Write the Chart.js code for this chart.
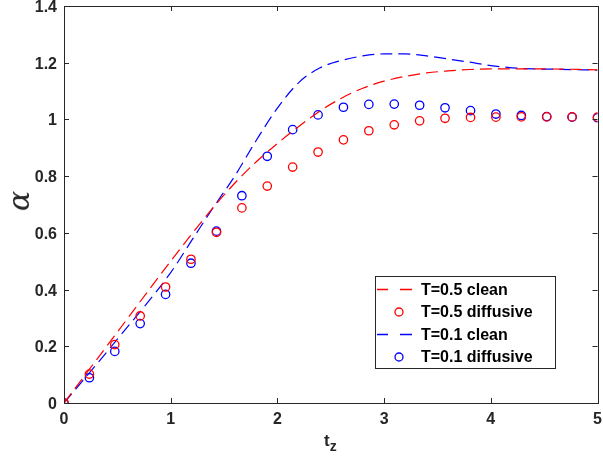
<!DOCTYPE html>
<html>
<head>
<meta charset="utf-8">
<script src="https://cdn.jsdelivr.net/npm/chart.js@4.4.1/dist/chart.umd.min.js"></script>
<style>
    body { margin: 0; background: #fff; }
    #wrap { position: relative; width: 603px; height: 466px; }
    #alpha {
        position: absolute; left: 19px; top: 201px; transform: translate(-50%, -50%) rotate(-90deg);
        font-family: "DejaVu Serif", serif; font-style: italic; font-size: 30px; line-height: 30px; color: #262626;
    }
    #tz {
        position: absolute; left: 324px; top: 431px;
        font-family: "Liberation Sans", Arial, sans-serif; font-weight: bold; font-size: 17px; color: #262626;
    }
    #tz sub { font-size: 14px; vertical-align: -5px; }
</style>
</head>
<body>
<div id="wrap">
    <canvas id="alphaChart" width="603" height="466"></canvas>
    <div id="alpha">α</div>
    <div id="tz">t<sub>z</sub></div>
</div>
<script>
// x positions of the diffusive markers
const diffX = [0, 0.238, 0.476, 0.714, 0.952, 1.190, 1.429, 1.667, 1.905, 2.143, 2.381,
               2.619, 2.857, 3.095, 3.333, 3.571, 3.810, 4.048, 4.286, 4.524, 4.762, 5.0];
const diffT05 = [0, 0.102, 0.206, 0.307, 0.409, 0.507, 0.602, 0.688, 0.765, 0.832, 0.885,
                 0.928, 0.960, 0.981, 0.995, 1.004, 1.007, 1.008, 1.009, 1.009, 1.009, 1.008];
const diffT01 = [0, 0.089, 0.182, 0.280, 0.383, 0.493, 0.606, 0.731, 0.870, 0.964, 1.016,
                 1.043, 1.053, 1.054, 1.050, 1.041, 1.031, 1.019, 1.014, 1.010, 1.008, 1.006];

// clean curves
const cleanX05 = [0, 0.5, 1.0, 1.4, 1.6, 1.8, 2.0, 2.2, 2.4, 2.6, 2.8, 3.0, 3.2, 3.4, 3.6, 3.8, 4.0, 4.5, 5.0];
const cleanT05 = [0, 0.25, 0.50, 0.69, 0.775, 0.85, 0.915, 0.975, 1.03, 1.075, 1.11, 1.135, 1.152, 1.164, 1.171, 1.176, 1.178, 1.178, 1.175];
const cleanX01 = [0, 0.5, 1.0, 1.2, 1.4, 1.6, 1.8, 2.0, 2.2, 2.4, 2.6, 2.8, 3.0, 3.2, 3.4, 3.6, 3.8, 4.0, 4.2, 4.4, 4.6, 5.0];
const cleanT01 = [0, 0.225, 0.46, 0.575, 0.69, 0.80, 0.925, 1.04, 1.13, 1.182, 1.208, 1.224, 1.231, 1.231, 1.224, 1.213, 1.202, 1.19, 1.182, 1.178, 1.177, 1.174];

const xTicks = [0, 1, 2, 3, 4, 5];
const yTicks = [0, 0.2, 0.4, 0.6, 0.8, 1, 1.2, 1.4];

const labels = ['T=0.5 clean', 'T=0.5 diffusive', 'T=0.1 clean', 'T=0.1 diffusive'];

const AXIS = '#262626';
const FONT = '"Liberation Sans", Arial, sans-serif';

function pts(xs, ys) {
    return xs.map((x, i) => ({ x: x, y: ys[i] }));
}

/**
 * MATLAB style box with inward ticks, tick labels and legend inside the axes
 */
const framePlugin = {
    id: 'frame',
    afterDatasetsDraw(chart) {
        const ctx = chart.ctx;
        const a = chart.chartArea;
        const xs = chart.scales.x, ys = chart.scales.y;
        const tl = 5;
        ctx.save();
        ctx.strokeStyle = AXIS;
        ctx.lineWidth = 1;
        ctx.strokeRect(Math.round(a.left) + 0.5, Math.round(a.top) + 0.5,
                       Math.round(a.right - a.left), Math.round(a.bottom - a.top));
        ctx.beginPath();
        xTicks.forEach(v => {
            const px = Math.round(xs.getPixelForValue(v)) + 0.5;
            ctx.moveTo(px, a.bottom); ctx.lineTo(px, a.bottom - tl);
            ctx.moveTo(px, a.top); ctx.lineTo(px, a.top + tl);
        });
        yTicks.forEach(v => {
            const py = Math.round(ys.getPixelForValue(v)) + 0.5;
            ctx.moveTo(a.left, py); ctx.lineTo(a.left + tl, py);
            ctx.moveTo(a.right, py); ctx.lineTo(a.right - tl, py);
        });
        ctx.stroke();

        // tick labels
        ctx.fillStyle = AXIS;
        ctx.font = 'bold 16px ' + FONT;
        ctx.textAlign = 'center';
        ctx.textBaseline = 'alphabetic';
        xTicks.forEach(v => {
            ctx.fillText(String(v), xs.getPixelForValue(v), a.bottom + 21);
        });
        ctx.textAlign = 'right';
        yTicks.forEach(v => {
            ctx.fillText(String(v), a.left - 7, ys.getPixelForValue(v) + 6);
        });

        // legend
        const bx = 375.5, by = 276.5, bw = 180, bh = 92;
        ctx.fillStyle = '#fff';
        ctx.fillRect(bx, by, bw, bh);
        ctx.strokeStyle = AXIS;
        ctx.strokeRect(bx, by, bw, bh);
        const rows = [289.5, 312, 334.5, 357];
        ctx.font = 'bold 16px ' + FONT;
        ctx.textAlign = 'left';
        ctx.textBaseline = 'middle';
        chart.data.datasets.forEach((ds, i) => {
            const y = rows[i];
            ctx.strokeStyle = ds.borderColor;
            ctx.lineWidth = 1.3;
            ctx.beginPath();
            if (ds.showLine) {
                ctx.moveTo(377, y); ctx.lineTo(388, y);
                ctx.moveTo(400, y); ctx.lineTo(412, y);
            } else {
                ctx.arc(399, y, 4, 0, Math.PI * 2);
            }
            ctx.stroke();
            ctx.fillStyle = '#000';
            ctx.fillText(ds.label, 421, y + 1);
        });
        ctx.restore();
    }
};

new Chart(document.getElementById('alphaChart'), {
    type: 'scatter',
    data: {
        datasets: [{
            label: labels[0],
            data: pts(cleanX05, cleanT05),
            showLine: true,
            borderColor: '#ff0000',
            borderWidth: 1.2,
            borderDash: [12, 6],
            cubicInterpolationMode: 'monotone',
            pointRadius: 0
        }, {
            label: labels[1],
            data: pts(diffX, diffT05),
            showLine: false,
            borderColor: '#ff0000',
            backgroundColor: 'rgba(0,0,0,0)',
            borderWidth: 1.3,
            pointRadius: 4.2
        }, {
            label: labels[2],
            data: pts(cleanX01, cleanT01),
            showLine: true,
            borderColor: '#0000ff',
            borderWidth: 1.2,
            borderDash: [12, 6],
            cubicInterpolationMode: 'monotone',
            pointRadius: 0
        }, {
            label: labels[3],
            data: pts(diffX, diffT01),
            showLine: false,
            borderColor: '#0000ff',
            backgroundColor: 'rgba(0,0,0,0)',
            borderWidth: 1.3,
            pointRadius: 4.2
        }]
    },
    options: {
        responsive: false,
        animation: false,
        layout: { padding: { top: 6, right: 4, left: 0, bottom: 0 } },
        plugins: {
            legend: { display: false },
            tooltip: { enabled: false }
        },
        scales: {
            x: {
                type: 'linear',
                min: 0,
                max: 5,
                afterFit: s => { s.height = 63; },
                grid: { display: false },
                border: { display: false },
                ticks: { display: false }
            },
            y: {
                min: 0,
                max: 1.4,
                afterFit: s => { s.width = 64; },
                grid: { display: false },
                border: { display: false },
                ticks: { display: false }
            }
        }
    },
    plugins: [framePlugin]
});
</script>
</body>
</html>
